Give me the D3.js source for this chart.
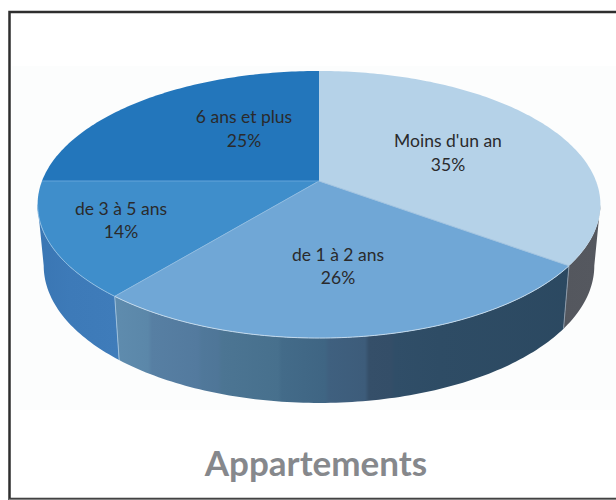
<!DOCTYPE html>
<html><head><meta charset="utf-8">
<script src="https://cdn.jsdelivr.net/npm/d3@7"></script>
<style>html,body{margin:0;padding:0;background:#fff}svg{display:block}text{font-family:Lato,"Open Sans",sans-serif}</style>
</head><body><svg id="c" width="616" height="500"></svg>
<script>
const categories = ["Moins d'un an", "de 1 à 2 ans", "de 3 à 5 ans", "6 ans et plus"];
const values = [35, 26, 14, 25];
const topColors = ["#b5d2e8", "#70a7d6", "#3f8ecb", "#2376bb"];
const titleText = "Appartements";
const labelPos = [[448, 141, 165], [338, 255, 278], [121, 209, 232], [244, 117, 141]];

const svg = d3.select("#c");
const W = 616, H = 500;
svg.append("rect").attr("width", W).attr("height", H).attr("fill", "#fff");
svg.append("rect").attr("x", 12).attr("y", 66).attr("width", W - 12).attr("height", 344).attr("fill", "#fcfdfd");

const k = 0.176;
const topFace = {cx: 319, cy: 181, a: 277, b: 129.4};
const botFace = {cx: 319, cy: 241.5, a: 271, b: 133};
const project = (p, t) => {
  const u = Math.sin(t), v = Math.cos(t), w = 1 + k * v;
  return [p.cx + p.a * u / w, p.cy - p.b * v / w];
};
const arcPts = (p, t0, t1) => {
  const n = Math.max(2, Math.ceil(Math.abs(t1 - t0) * 60));
  return d3.range(n + 1).map(i => project(p, t0 + (t1 - t0) * i / n));
};
const line = d3.line();
const arcs = d3.pie().sort(null).value(d => d)(values);

const defs = svg.append("defs");
function gradient(id, stops) {
  const g = defs.append("linearGradient").attr("id", id).attr("gradientUnits", "userSpaceOnUse")
    .attr("x1", 37).attr("x2", 601).attr("y1", 0).attr("y2", 0);
  stops.forEach(s => g.append("stop").attr("offset", (s[0] - 37) / 564).attr("stop-color", s[1]));
}
gradient("wall1", [[113, "#5f8cae"], [148, "#5b87a9"], [152, "#577fa3"], [198, "#537a9e"], [202, "#50789a"], [218, "#4f7698"], [222, "#4c7593"], [278, "#47708d"], [282, "#436b89"], [325, "#3f6583"], [329, "#3f607f"], [365, "#3d5c7a"], [369, "#354f69"], [391, "#344e68"], [395, "#304e68"], [440, "#2e4c65"], [601, "#2b4860"]]);
gradient("wall2", [[37, "#3a76b3"], [70, "#3d7ab8"], [118, "#3f7cba"]]);
gradient("wall0", [[560, "#54575e"], [601, "#55585f"]]);
const wallFill = ["url(#wall0)", "url(#wall1)", "url(#wall2)", "none"];

// The wall runs between the two points where the top face is widest.
const limR = Math.acos(-k), limL = 2 * Math.PI - limR;
arcs.forEach((d, i) => {
  const t0 = Math.max(d.startAngle, limR);
  const t1 = Math.min(d.endAngle, limL);
  if (t1 <= t0) return;
  const pts = arcPts(topFace, t0, t1).concat(arcPts(botFace, t1, t0));
  svg.append("path").attr("d", line(pts) + "Z").attr("fill", wallFill[i]);
});
const seamColors = ["#8b99a8", "#9dc0dc"];
arcs.slice(0, 2).forEach((d, i) => {
  svg.append("path").attr("d", line([project(topFace, d.endAngle), project(botFace, d.endAngle)]))
    .attr("stroke", seamColors[i]).attr("stroke-width", 1).attr("fill", "none");
});

arcs.forEach((d, i) => {
  const pts = [[topFace.cx, topFace.cy]].concat(arcPts(topFace, d.startAngle, d.endAngle));
  svg.append("path").attr("d", line(pts) + "Z").attr("fill", topColors[i]);
});
const spokeColors = ["#a3c4e0", "#8fbbe0", "#64a4da"];
arcs.slice(0, 3).forEach((d, i) => {
  svg.append("path").attr("d", line([[topFace.cx, topFace.cy], project(topFace, d.endAngle)]))
    .attr("stroke", spokeColors[i]).attr("stroke-width", 1).attr("fill", "none");
});
svg.append("path").attr("d", line(arcPts(topFace, arcs[1].startAngle, arcs[1].endAngle)))
  .attr("stroke", "#c2d9ec").attr("stroke-width", 1).attr("fill", "none");
svg.append("path").attr("d", line(arcPts(topFace, arcs[2].startAngle, limL)))
  .attr("stroke", "#8fbde2").attr("stroke-width", 1).attr("fill", "none");

categories.forEach((c, i) => {
  const p = labelPos[i];
  const t = svg.append("text").attr("text-anchor", "middle").attr("fill", "#2a2a2c").attr("font-size", 17.5);
  t.append("tspan").attr("x", p[0]).attr("y", p[1] + 6).text(c);
  t.append("tspan").attr("x", p[0]).attr("y", p[2] + 6).text(values[i] + "%");
});
svg.append("text").attr("x", 316).attr("y", 476).attr("text-anchor", "middle")
  .attr("fill", "#86888c").attr("font-weight", 700).attr("font-size", 35).text(titleText);

svg.append("path").attr("d", `M${W},12 H9.5 V499 H${W}`).attr("fill", "none").attr("stroke", "#2e2e2e").attr("stroke-width", 2.5);
svg.append("path").attr("d", `M9,499.5 H${W}`).attr("stroke", "#808080").attr("stroke-width", 1.5);
</script></body></html>
